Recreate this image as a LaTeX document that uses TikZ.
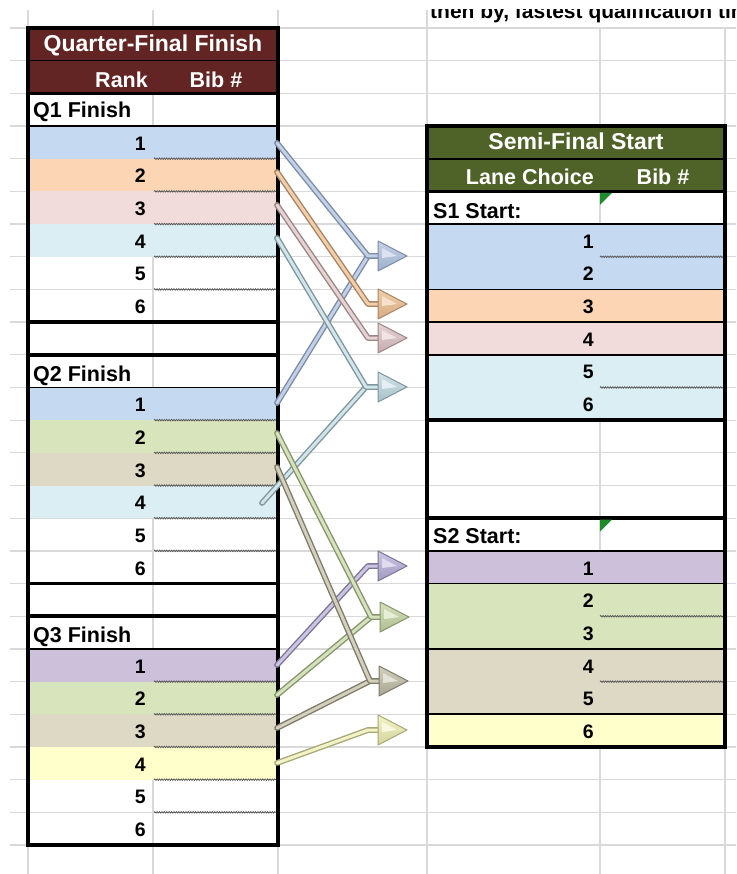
\documentclass[tikz,border=0pt]{standalone}
\usepackage{fontspec}
\setmainfont{Liberation Sans}
\usetikzlibrary{decorations.pathmorphing}
\definecolor{hdred}{HTML}{632523}
\definecolor{hdgreen}{HTML}{4F6228}
\definecolor{cblue}{HTML}{C5D9F1}
\definecolor{cpeach}{HTML}{FCD5B4}
\definecolor{cpink}{HTML}{F2DCDB}
\definecolor{ccyan}{HTML}{DAEEF3}
\definecolor{clav}{HTML}{CCC0DA}
\definecolor{cgreen}{HTML}{D8E4BC}
\definecolor{ctan}{HTML}{DDD9C4}
\definecolor{cyel}{HTML}{FFFFCC}
\definecolor{gridc}{HTML}{D9D9D9}
\definecolor{cmtgreen}{HTML}{1E8C2A}
% connector colours: D = edge, L = core, M = head
\definecolor{bluD}{HTML}{7C8CA8}\definecolor{bluL}{HTML}{C3D1E6}\definecolor{bluM}{HTML}{A9BCD8}
\definecolor{peaD}{HTML}{A88466}\definecolor{peaL}{HTML}{F0CFAA}\definecolor{peaM}{HTML}{E6B98C}
\definecolor{pinD}{HTML}{9C8587}\definecolor{pinL}{HTML}{E6D3D4}\definecolor{pinM}{HTML}{D3BABB}
\definecolor{cyaD}{HTML}{7E969C}\definecolor{cyaL}{HTML}{D2E5EA}\definecolor{cyaM}{HTML}{B4CDD4}
\definecolor{lavD}{HTML}{7D7598}\definecolor{lavL}{HTML}{CCC5E2}\definecolor{lavM}{HTML}{B0A7CE}
\definecolor{griD}{HTML}{86956C}\definecolor{griL}{HTML}{D6E2BE}\definecolor{griM}{HTML}{BBCB9E}
\definecolor{tanD}{HTML}{7E7B6A}\definecolor{tanL}{HTML}{D3D0BE}\definecolor{tanM}{HTML}{B7B3A0}
\definecolor{yelD}{HTML}{A8A878}\definecolor{yelL}{HTML}{F3F3C8}\definecolor{yelM}{HTML}{E2E2A8}
\newcommand\rowY[1]{28+32.68*(#1)}
\newcommand\qhead[4]{%
  \path[draw=#4, top color=#3, bottom color=#2!75!#4, line width=1pt, line join=round] (#1) ++(0,-15) -- ++(29,15) -- ++(-29,15) -- cycle;
  \fill[#3!60!white] (#1) ++(4,-8) -- ++(15,8) -- ++(-15,2) -- cycle;}
\tikzset{
  gridline/.style={draw=gridc, line width=1.3pt},
  cell/.style={rectangle, inner sep=0pt, outer sep=0pt, minimum height=32.68pt, anchor=north west, draw=none},
  txh/.style={font=\bfseries\fontsize{23}{23}\selectfont, text=white, inner sep=0pt},
  txs/.style={font=\bfseries\fontsize{21.5}{21.5}\selectfont, text=white, inner sep=0pt},
  txl/.style={font=\bfseries\fontsize{21.5}{21.5}\selectfont, text=black, inner sep=0pt, anchor=base west},
  txn/.style={font=\bfseries\fontsize{19.5}{19.5}\selectfont, text=black, inner sep=0pt, anchor=base east},
  thinb/.style={line width=1.6pt, draw=black},
  thickb/.style={line width=3.5pt, draw=black},
  wavy/.style={decorate, decoration={snake, amplitude=0.7pt, segment length=2.4pt}, draw=black!65, line width=0.8pt},
  conn/.style 2 args={draw=#1, double=#2, double distance=3pt, line width=1.4pt, line join=round, line cap=round},
}
\begin{document}
\begin{tikzpicture}[x=1pt,y=-1pt]
\useasboundingbox (0,0) rectangle (736,874);
\fill[white] (0,0) rectangle (736,874);

% spreadsheet grid
\foreach \k in {0,...,25} \draw[gridline] (10,{\rowY{\k}}) -- (736,{\rowY{\k}});
\foreach \x in {28,153,278,427} \draw[gridline] (\x,10) -- (\x,874);
\foreach \x in {600,725} \draw[gridline] (\x,28) -- (\x,874);

% cut-off note at the top (the reference shows only its lower part)
\begin{scope}
  \clip (420,10) rectangle (736,28);
  \node[font=\bfseries\fontsize{21}{21}\selectfont, anchor=base west, inner sep=0pt] (note) at (430,19) {then by, fastest qualification time};
\end{scope}

% ---------- left table fills ----------
\node[cell, minimum width=250pt, fill=hdred] (lh1) at (28,{\rowY{0}}) {};
\node[cell, minimum width=250pt, fill=hdred] (lh2) at (28,{\rowY{1}}) {};
\foreach \n/\k/\c in {q1a/3/cblue, q1b/4/cpeach, q1c/5/cpink, q1d/6/ccyan,
                      q2a/11/cblue, q2b/12/cgreen, q2c/13/ctan, q2d/14/ccyan,
                      q3a/19/clav, q3b/20/cgreen, q3c/21/ctan, q3d/22/cyel}
  \node[cell, minimum width=250pt, fill=\c] (\n) at (28,{\rowY{\k}}) {};

% ---------- right table fills ----------
\node[cell, minimum width=298pt, fill=hdgreen] (rh1) at (427,{\rowY{3}}) {};
\node[cell, minimum width=298pt, fill=hdgreen] (rh2) at (427,{\rowY{4}}) {};
\foreach \n/\k/\c in {s1a/6/cblue, s1b/7/cblue, s1c/8/cpeach, s1d/9/cpink, s1e/10/ccyan, s1f/11/ccyan,
                      s2a/16/clav, s2b/17/cgreen, s2c/18/cgreen, s2d/19/ctan, s2e/20/ctan, s2f/21/cyel}
  \node[cell, minimum width=298pt, fill=\c] (\n) at (427,{\rowY{\k}}) {};

% ---------- rules ----------
\foreach \k in {1,3,11,19} \draw[thinb] (28,{\rowY{\k}}) -- (278,{\rowY{\k}});
\foreach \k in {2,9,10,17,18} \draw[thickb] (28,{\rowY{\k}}) -- (278,{\rowY{\k}});
\foreach \k in {4,6,8,9,10,16,17,19,21} \draw[thinb] (427,{\rowY{\k}}) -- (725,{\rowY{\k}});
\foreach \k in {5,12,15} \draw[thickb] (427,{\rowY{\k}}) -- (725,{\rowY{\k}});
\foreach \kk in {3,11,19} \foreach \i in {1,...,5}
  \draw[wavy] (154,{\rowY{\kk+\i}}) -- (276,{\rowY{\kk+\i}});
\foreach \k in {7,11,18,20} \draw[wavy] (600,{\rowY{\k}}) -- (723,{\rowY{\k}});
\draw[thickb] (28,{\rowY{0}}) rectangle (278,{\rowY{25}});
\draw[thickb] (427,{\rowY{3}}) rectangle (725,{\rowY{22}});

% ---------- texts ----------
\node[txh, anchor=base] (lt1) at (153,{\rowY{1}-8.7}) {Quarter-Final Finish};
\node[txs, anchor=base east] (lt2) at (148,{\rowY{2}-6}) {Rank};
\node[txs, anchor=base] (lt3) at (216,{\rowY{2}-6}) {Bib \#};
\node[txh, anchor=base] (rt1) at (576,{\rowY{4}-8.8}) {Semi-Final Start};
\node[txs, anchor=base east] (rt2) at (594,{\rowY{5}-6.4}) {Lane Choice};
\node[txs, anchor=base] (rt3) at (663,{\rowY{5}-6.4}) {Bib \#};
\node[txl] (lq1) at (33,{\rowY{3}-8.7}) {Q1 Finish};
\node[txl] (lq2) at (33,{\rowY{11}-6}) {Q2 Finish};
\node[txl] (lq3) at (33,{\rowY{19}-6}) {Q3 Finish};
\node[txl] (ls1) at (433,{\rowY{6}-6}) {S1 Start:};
\node[txl] (ls2) at (433,{\rowY{16}-7}) {S2 Start:};
\foreach \b/\kk in {q1/3, q2/11, q3/19} \foreach \i in {1,...,6}
  \node[txn] (\b n\i) at (146,{\rowY{\kk+\i}-8.5}) {\i};
\foreach \b/\kk in {s1/6, s2/16} \foreach \i in {1,...,6}
  \node[txn] (\b n\i) at (594,{\rowY{\kk+\i}-8.5}) {\i};

% comment markers
\fill[cmtgreen] (600,{\rowY{5}+1.5}) -- ++(12,0) -- ++(-12,12) -- cycle;
\fill[cmtgreen] (600,{\rowY{15}+1.5}) -- ++(12,0) -- ++(-12,12) -- cycle;

% ---------- connectors ----------
\coordinate (a1) at (277,143); \coordinate (a2) at (277,172);
\coordinate (a3) at (277,205); \coordinate (a4) at (277,238);
\coordinate (b1) at (277,403); \coordinate (b2) at (277,433);
\coordinate (b3) at (277,467); \coordinate (b4) at (262,503);
\coordinate (c1) at (277,665); \coordinate (c2) at (277,695);
\coordinate (c3) at (277,728); \coordinate (c4) at (277,763);
\coordinate (e1) at (368,256); \coordinate (h1) at (378,256);
\coordinate (e2) at (368,304); \coordinate (h2) at (378,304);
\coordinate (e3) at (368,338); \coordinate (h3) at (378,338);
\coordinate (e4) at (366,387); \coordinate (h4) at (378,387);
\coordinate (e5) at (368,566); \coordinate (h5) at (378,566);
\coordinate (e6) at (371,617); \coordinate (h6) at (380,617);
\coordinate (e7) at (370,681); \coordinate (h7) at (379,681);
\coordinate (e8) at (368,730); \coordinate (h8) at (378,730);

\draw[conn={bluD}{bluL}] (b1) -- (e1) -- (h1);
\draw[conn={cyaD}{cyaL}] (b4) -- (e4) -- (h4);
\draw[conn={bluD}{bluL}] (a1) -- (e1) -- (h1);
\draw[conn={peaD}{peaL}] (a2) -- (e2) -- (h2);
\draw[conn={pinD}{pinL}] (a3) -- (e3) -- (h3);
\draw[conn={cyaD}{cyaL}] (a4) -- (e4) -- (h4);
\draw[conn={lavD}{lavL}] (c1) -- (e5) -- (h5);
\draw[conn={griD}{griL}] (c2) -- (e6) -- (h6);
\draw[conn={tanD}{tanL}] (c3) -- (e7) -- (h7);
\draw[conn={yelD}{yelL}] (c4) -- (e8) -- (h8);
\draw[conn={griD}{griL}] (b2) -- (e6) -- (h6);
\draw[conn={tanD}{tanL}] (b3) -- (e7) -- (h7);

\qhead{h1}{bluM}{bluL}{bluD}
\qhead{h2}{peaM}{peaL}{peaD}
\qhead{h3}{pinM}{pinL}{pinD}
\qhead{h4}{cyaM}{cyaL}{cyaD}
\qhead{h5}{lavM}{lavL}{lavD}
\qhead{h6}{griM}{griL}{griD}
\qhead{h7}{tanM}{tanL}{tanD}
\qhead{h8}{yelM}{yelL}{yelD}
\end{tikzpicture}
\end{document}
